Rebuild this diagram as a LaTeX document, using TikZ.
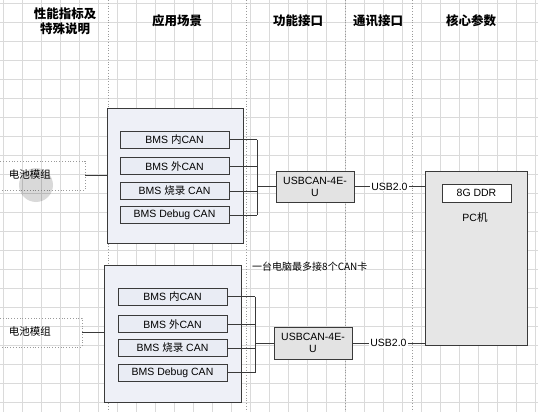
\documentclass[tikz,border=0pt]{standalone}
\usepackage{fontspec}
\setmainfont{Liberation Sans}
\newfontfamily\cjk{Noto Sans CJK SC}
\usetikzlibrary{positioning}

\definecolor{gridgray}{HTML}{DADADA}
\definecolor{lanegray}{HTML}{9A9A9A}
\definecolor{grpfill}{HTML}{EEF0F7}
\definecolor{canfill}{HTML}{E9ECF4}
\definecolor{cardfill}{HTML}{E3E3E3}
\definecolor{pcfill}{HTML}{E6E6E6}
\definecolor{edge}{HTML}{3A3A3A}

\begin{document}
\begin{tikzpicture}[
		x = 1pt,
		y = -1pt,
		gridline/.style = {
			draw = gridgray,
			line width = 0.6pt
		},
		lane/.style = {
			draw = lanegray,
			dotted,
			line width = 0.8pt
		},
		hdr/.style = {
			font = \fontsize{12.5}{15}\selectfont\cjk\bfseries,
			align = center,
			inner sep = 0
		},
		grp/.style = {
			draw = edge,
			rectangle,
			fill = grpfill,
			line width = 1pt,
			inner sep = 0
		},
		canbox/.style = {
			draw = edge,
			rectangle,
			fill = canfill,
			line width = 0.9pt,
			inner sep = 0,
			minimum width = 109pt,
			minimum height = 17pt,
			font = \fontsize{10.5}{12}\selectfont
		},
		cardbox/.style = {
			draw = edge,
			rectangle,
			fill = cardfill,
			line width = 0.9pt,
			inner sep = 0,
			minimum width = 78pt,
			minimum height = 31pt,
			align = center,
			font = \fontsize{10.5}{12}\selectfont
		},
		batbox/.style = {
			draw = lanegray,
			dotted,
			line width = 0.8pt,
			rectangle,
			inner sep = 0,
			minimum height = 29pt,
			font = \fontsize{10.5}{12}\selectfont\cjk
		},
		wire/.style = {
			draw = edge,
			line width = 0.9pt
		},
		usb/.style = {
			fill = white,
			inner sep = 1pt,
			font = \fontsize{10.5}{12}\selectfont
		}
	]
	\useasboundingbox (0, 0) rectangle (538, 412);

	% background grid
	\foreach \gx in {3, 22, ..., 538}
		\draw [gridline] (\gx, 0) -- (\gx, 412);
	\foreach \gy in {3, 22, ..., 412}
		\draw [gridline] (0, \gy) -- (538, \gy);

	% swimlanes
	\draw [lane] (108, 0) -- (108, 412);
	\draw [lane] (246, 0) -- (246, 412);
	\draw [lane] (345, 0) -- (345, 412);
	\draw [lane] (412, 0) -- (412, 412);

	\node [hdr] (hperf) at (65, 21) {性能指标及\\特殊说明};
	\node [hdr] (happ) at (177, 21) {应用场景};
	\node [hdr] (hfunc) at (298, 21) {功能接口};
	\node [hdr] (hcomm) at (378, 21) {通讯接口};
	\node [hdr] (hcore) at (471, 21) {核心参数};

	% PC
	\node [grp, fill = pcfill, minimum width = 102pt, minimum height = 174pt] (pc) at (476, 258) {};
	\node [draw = edge, fill = white, line width = 0.9pt, minimum width = 69pt, minimum height = 18pt, inner sep = 0, font = \fontsize{10.5}{12}\selectfont] (ddr) at (476.5, 193) {8G DDR};
	\node [font = \fontsize{10.5}{12}\selectfont] (pcname) at (475, 218) {PC{\cjk 机}};

	% upper group
	\node [grp, minimum width = 136pt, minimum height = 135pt] (grpa) at (175, 175.5) {};
	\node [canbox] (cana1) at (174.5, 139.5) {BMS {\cjk 内}CAN};
	\node [canbox] (cana2) at (174.5, 166) {BMS {\cjk 外}CAN};
	\node [canbox] (cana3) at (174.5, 191) {BMS {\cjk 烧录} CAN};
	\node [canbox] (cana4) at (174.5, 215) {BMS Debug CAN};
	\node [cardbox] (carda) at (315, 186.5) {USBCAN-4E-\\U};
	\node [batbox, minimum width = 86pt] (bata) at (42, 175.5) {};
	\fill [black, opacity = 0.15] (36, 185) circle (17);
	\node [font = \fontsize{10.5}{12}\selectfont\cjk] (bataname) at (30, 175) {电池模组};

	\coordinate (busa) at (257, 186.5);
	\foreach \i in {1, 2, 3, 4}
		\draw [wire] (cana\i.east) -- (cana\i.east -| busa);
	\draw [wire] (cana1.east -| busa) -- (cana4.east -| busa);
	\draw [wire] (busa) -- (carda.west);
	\draw [wire] (bata.east) -- (bata.east -| grpa.west);
	\draw [wire] (carda.east) -- node [usb] {USB2.0} (carda.east -| pc.west);

	% lower group
	\node [grp, minimum width = 137pt, minimum height = 137pt] (grpb) at (172.5, 333.5) {};
	\node [canbox] (canb1) at (172.5, 296.5) {BMS {\cjk 内}CAN};
	\node [canbox] (canb2) at (172.5, 324) {BMS {\cjk 外}CAN};
	\node [canbox] (canb3) at (172.5, 348) {BMS {\cjk 烧录} CAN};
	\node [canbox] (canb4) at (172.5, 372.5) {BMS Debug CAN};
	\node [cardbox, minimum height = 32pt] (cardb) at (313, 343) {USBCAN-4E-\\U};
	\node [batbox, minimum width = 83pt] (batb) at (40.5, 332.5) {};
	\node [font = \fontsize{10.5}{12}\selectfont\cjk] (batbname) at (30, 332) {电池模组};
	\node [anchor = west, inner sep = 0, font = \fontsize{10}{12}\selectfont\cjk] (note) at (252, 267) {一台电脑最多接8个CAN卡};

	\coordinate (busb) at (255, 343);
	\foreach \i in {1, 2, 3, 4}
		\draw [wire] (canb\i.east) -- (canb\i.east -| busb);
	\draw [wire] (canb1.east -| busb) -- (canb4.east -| busb);
	\draw [wire] (busb) -- (cardb.west);
	\draw [wire] (batb.east) -- (batb.east -| grpb.west);
	\draw [wire] (cardb.east) -- node [usb] {USB2.0} (cardb.east -| pc.west);
\end{tikzpicture}
\end{document}
